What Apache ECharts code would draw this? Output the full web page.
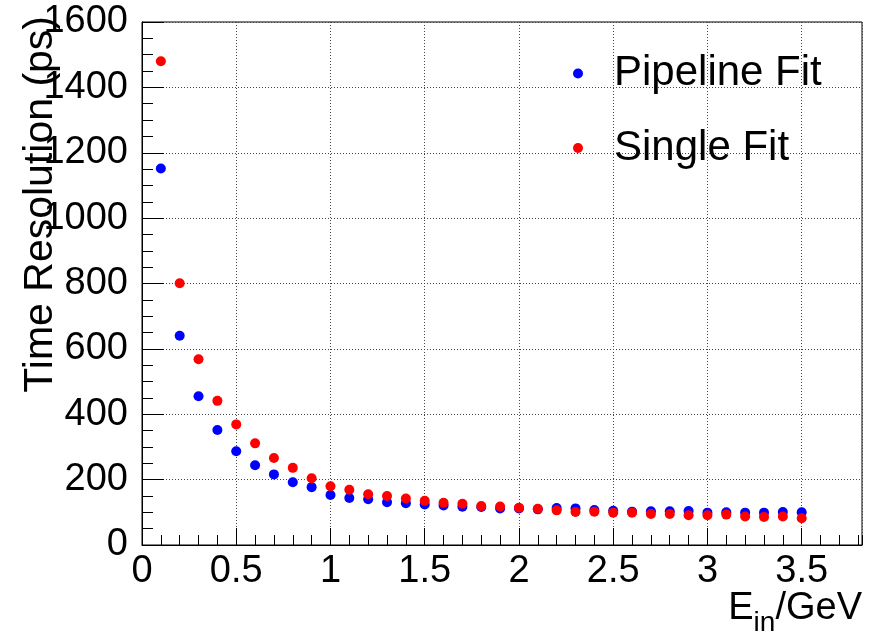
<!DOCTYPE html>
<html><head><meta charset="utf-8">
<script src="https://cdn.jsdelivr.net/npm/echarts@6/dist/echarts.min.js"></script>
<style>html,body{margin:0;padding:0;background:#fff}#c{width:872px;height:636px}</style>
</head><body><div id="c"></div>
<script>
// Beam energies (GeV)
const energies = [0.1,0.2,0.3,0.4,0.5,0.6,0.7,0.8,0.9,1.0,1.1,1.2,1.3,1.4,1.5,1.6,1.7,1.8,1.9,2.0,2.1,2.2,2.3,2.4,2.5,2.6,2.7,2.8,2.9,3.0,3.1,3.2,3.3,3.4,3.5];
// Time resolution (ps)
const pipelineFit = [1152,640,455,352,287,244,216,192,177,153,144,140,131,128,124,121,117,116,112,112,109,113,112,107,105,102,103,103,104,99,100,99,99,101,100];
const singleFit = [1480,801,568,441,369,311,266,236,204,180,169,155,150,142,135,129,126,119,118,114,111,106,101,102,99,99,95,95,91,91,93,87,86,87,82];
const seriesNames = ['Pipeline Fit','Single Fit'];
const xRange = [0, 3.82], xMajor = 0.5, xMinor = 0.1;
const yRange = [0, 1600], yMajor = 200;
const xTitle = ['E','in','/GeV'];
const yTitle = 'Time Resolution (ps)';

const FF = 'Liberation Sans, Arial, Helvetica, sans-serif';
const chart = echarts.init(document.getElementById('c'), null, {renderer:'canvas'});
const grid = {left:142, right:10, top:22, bottom:91, show:true, borderColor:'#000', borderWidth:1, backgroundColor:'transparent'};
const dotted = {color:'#444', type:[1,2], width:1};

chart.setOption({
  animation:false,
  backgroundColor:'#fff',
  grid: grid,
  legend: {
    orient:'vertical', left:573, top:52.5, padding:0, itemWidth:10, itemHeight:10, itemGap:32.5,
    icon:'circle', data: seriesNames,
    textStyle:{fontSize:42, fontFamily:FF, color:'#000', padding:[0,0,0,26], lineHeight:42}
  },
  xAxis: [{
    type:'value', min:xRange[0], max:xRange[1], interval:xMajor, position:'bottom',
    axisLine:{show:true, onZero:false, lineStyle:{color:'#000', width:1}},
    axisTick:{show:true, inside:true, length:17, lineStyle:{color:'#000', width:1}},
    axisLabel:{margin:8, fontSize:38, color:'#000', fontFamily:FF, showMaxLabel:false},
    splitLine:{show:true, lineStyle:dotted}
  },{
    type:'value', min:xRange[0], max:xRange[1], interval:xMinor, position:'bottom',
    axisLine:{show:false},
    axisTick:{show:true, inside:true, length:10, lineStyle:{color:'#000', width:1}},
    axisLabel:{show:false}, splitLine:{show:false}
  }],
  yAxis: {
    type:'value', min:yRange[0], max:yRange[1], interval:yMajor,
    axisLine:{show:true, onZero:false, lineStyle:{color:'#000', width:1}},
    axisTick:{show:true, inside:true, length:22, lineStyle:{color:'#000', width:1}},
    minorTick:{show:true, splitNumber:4, length:11, lineStyle:{color:'#000', width:1}},
    axisLabel:{margin:14, fontSize:38, color:'#000', fontFamily:FF, formatter: v => String(v)},
    splitLine:{show:true, lineStyle:dotted}
  },
  series: [
    {name:seriesNames[0], type:'scatter', xAxisIndex:0, symbol:'circle', symbolSize:10,
     itemStyle:{color:'#0000ff', opacity:1}, data: energies.map((e,i)=>[e, pipelineFit[i]])},
    {name:seriesNames[1], type:'scatter', xAxisIndex:0, symbol:'circle', symbolSize:10,
     itemStyle:{color:'#ff0000', opacity:1}, data: energies.map((e,i)=>[e, singleFit[i]])}
  ],
  graphic: [
    {type:'text', x:41, y:16, rotation:Math.PI/2,
     style:{text:yTitle, fontSize:41, fontFamily:FF, fill:'#000', align:'right', textAlign:'right', verticalAlign:'middle', textVerticalAlign:'middle'}},
    {type:'text', x:862, y:590,
     style:{text:'{a|'+xTitle[0]+'}{b|'+xTitle[1]+'}{a|'+xTitle[2]+'}', fill:'#000', align:'right', textAlign:'right', verticalAlign:'top', textVerticalAlign:'top',
       rich:{
         a:{fontSize:38, fontFamily:FF, height:38, lineHeight:47, verticalAlign:'top', fill:'#000'},
         b:{fontSize:28, fontFamily:FF, verticalAlign:'bottom', fill:'#000'}
       }}}
  ]
});
</script></body></html>
